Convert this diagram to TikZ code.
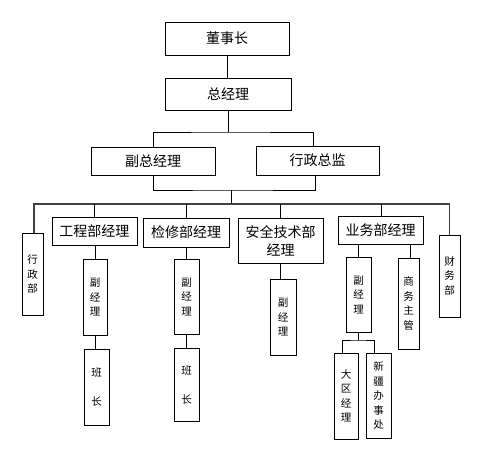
\documentclass[tikz,border=0pt]{standalone}
\usepackage{fontspec}
\setmainfont{Noto Sans CJK SC}
\begin{document}
\begin{tikzpicture}[x=1pt,y=-1pt,
  box/.style={draw,line width=0.9pt,inner sep=0pt,align=center,font=\fontsize{14}{18}\selectfont},
  vbox/.style={draw,line width=0.9pt,inner sep=0pt,align=center,font=\fontsize{10.5}{14.5}\selectfont},
  conn/.style={line width=0.9pt},
  mainline/.style={line width=1.4pt,black!75}]
\useasboundingbox[fill=white] (0,0) rectangle (483,449);
% top levels
\node[box,minimum width=124pt,minimum height=33pt] (dsz) at (227,38.5) {董事长};
\node[box,minimum width=126pt,minimum height=32pt] (zjl) at (228,94) {总经理};
\node[box,minimum width=124pt,minimum height=28pt] (fzjl) at (153,161) {副总经理};
\node[box,minimum width=123pt,minimum height=29pt] (xzzj) at (317.5,160.5) {行政总监};
% department level
\node[vbox,minimum width=21pt,minimum height=82pt] (xzb) at (32.5,274) {行\\政\\部};
\node[box,minimum width=85pt,minimum height=28pt] (gcb) at (94.5,231) {工程部经理};
\node[vbox,minimum width=24pt,minimum height=76pt] (gcf) at (95,297) {副\\经\\理};
\node[vbox,minimum width=25pt,minimum height=76pt] (gcbz) at (96.5,387) {班\\[14.5pt]长};
\node[box,minimum width=86pt,minimum height=29pt] (jxb) at (186,232.5) {检修部经理};
\node[vbox,minimum width=25pt,minimum height=75pt] (jxf) at (186.5,296.5) {副\\经\\理};
\node[vbox,minimum width=25pt,minimum height=73pt] (jxbz) at (186.5,384.5) {班\\[14.5pt]长};
\node[box,minimum width=85pt,minimum height=45pt] (aq) at (280.5,240.5) {安全技术部\\经理};
\node[vbox,minimum width=26pt,minimum height=76pt] (aqf) at (283,317) {副\\经\\理};
\node[box,minimum width=85pt,minimum height=28pt] (yw) at (380.5,230) {业务部经理};
\node[vbox,minimum width=25pt,minimum height=75pt] (ywf) at (358.5,294.5) {副\\经\\理};
\node[vbox,minimum width=21pt,minimum height=91pt] (swzg) at (408.5,303.5) {商\\务\\主\\管};
\node[vbox,minimum width=21pt,minimum height=82pt] (cwb) at (449.5,276) {财\\务\\部};
\node[vbox,minimum width=24pt,minimum height=86pt] (dq) at (346,396) {大\\区\\经\\理};
\node[vbox,minimum width=25pt,minimum height=85pt] (xj) at (378.5,395.5) {新\\疆\\办\\事\\处};
% junctions
\coordinate (b1) at (228,132);
\coordinate (b2) at (231,190);
\coordinate (b3) at (231,204);
\coordinate (b4) at (358.5,340);
% connectors
\draw[conn] (dsz.south) -- (dsz.south |- zjl.north);
\draw[conn] (zjl.south) -- (b1);
\draw[conn] (fzjl.north) |- (b1) -| ([xshift=-4pt]xzzj.north);
\draw[conn] (fzjl.south) |- (b2) -| ([xshift=-2pt]xzzj.south);
\draw[conn] (b2) -- (b3);
\draw[mainline] ([xshift=1.5pt]xzb.north) |- (b3) -| (cwb.north);
\draw[conn] (gcb.north) -- (gcb.north |- b3);
\draw[conn] (jxb.north) -- (jxb.north |- b3);
\draw[conn] (aq.north) -- (aq.north |- b3);
\draw[conn] ([xshift=1pt]yw.north) -- ([xshift=1pt]yw.north |- b3);
\draw[conn] (gcf.north) -- (gcf.north |- gcb.south);
\draw[conn] (gcf.south) -- (gcf.south |- gcbz.north);
\draw[conn] (jxf.north) -- (jxf.north |- jxb.south);
\draw[conn] (jxf.south) -- (jxf.south |- jxbz.north);
\draw[conn] ([xshift=-2.5pt]aqf.north) -- ([xshift=-2.5pt]aqf.north |- aq.south);
\draw[conn] (ywf.north) -- (ywf.north |- yw.south);
\draw[conn] ([xshift=1.5pt]swzg.north) -- ([xshift=1.5pt]swzg.north |- yw.south);
\draw[conn] (ywf.south) -- (b4);
\draw[conn] ([xshift=-4pt]dq.north) |- (b4) -| ([xshift=-4.5pt]xj.north);
\end{tikzpicture}
\end{document}
